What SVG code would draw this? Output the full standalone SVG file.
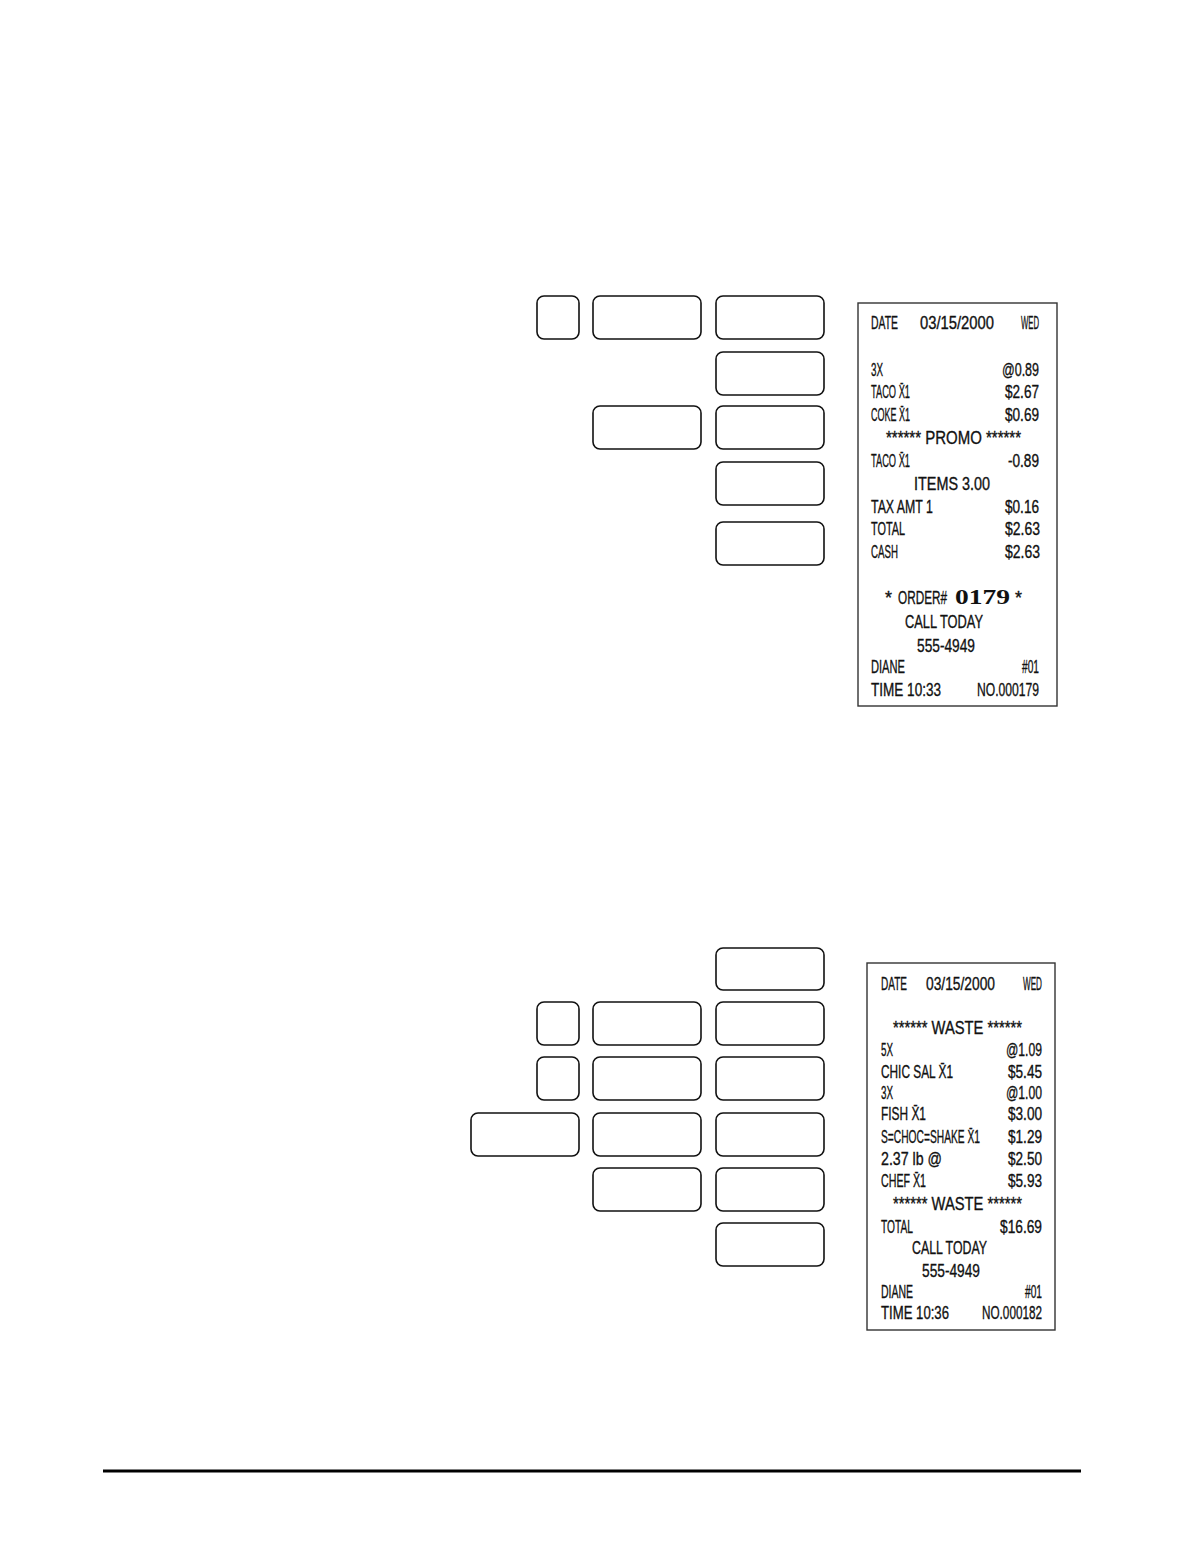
<svg xmlns="http://www.w3.org/2000/svg" width="1186" height="1568" viewBox="0 0 1186 1568">
<style>
.key{fill:#fff;stroke:#111;stroke-width:1.6}
.paper{fill:#fff;stroke:#333;stroke-width:1.4}
.r{font-family:"Liberation Sans",Arial,sans-serif;font-size:18px;fill:#111;stroke:#111;stroke-width:0.35}
.big{font-family:"Liberation Serif","Times New Roman",serif;font-size:20px;font-weight:bold;fill:#111}
</style>
<rect width="1186" height="1568" fill="#fff"/>
<g id="keys-top">
<rect id="k1" class="key" x="537" y="296" width="42" height="43" rx="7"/>
<rect id="k2" class="key" x="593" y="296" width="108" height="43" rx="7"/>
<rect id="k3" class="key" x="716" y="296" width="108" height="43" rx="7"/>
<rect id="k4" class="key" x="716" y="352" width="108" height="43" rx="7"/>
<rect id="k5" class="key" x="593" y="406" width="108" height="43" rx="7"/>
<rect id="k6" class="key" x="716" y="406" width="108" height="43" rx="7"/>
<rect id="k7" class="key" x="716" y="462" width="108" height="43" rx="7"/>
<rect id="k8" class="key" x="716" y="522" width="108" height="43" rx="7"/>
</g>
<g id="receipt-1">
<rect class="paper" x="858" y="303" width="199" height="403"/>
<text class="r" x="871" y="328.5" textLength="27" lengthAdjust="spacingAndGlyphs">DATE</text>
<text class="r" x="920" y="328.5" textLength="74" lengthAdjust="spacingAndGlyphs">03/15/2000</text>
<text class="r" x="1021" y="328.5" textLength="18" lengthAdjust="spacingAndGlyphs">WED</text>
<text class="r" x="871" y="375.5" textLength="12" lengthAdjust="spacingAndGlyphs">3X</text>
<text class="r" x="1002" y="375.5" textLength="37" lengthAdjust="spacingAndGlyphs">@0.89</text>
<text class="r" x="871" y="398" textLength="39" lengthAdjust="spacingAndGlyphs">TACO X̄1</text>
<text class="r" x="1005" y="398" textLength="34" lengthAdjust="spacingAndGlyphs">$2.67</text>
<text class="r" x="871" y="420.5" textLength="39" lengthAdjust="spacingAndGlyphs">COKE X̄1</text>
<text class="r" x="1005" y="420.5" textLength="34" lengthAdjust="spacingAndGlyphs">$0.69</text>
<text class="r" x="886" y="443.5" textLength="135" lengthAdjust="spacingAndGlyphs">****** PROMO ******</text>
<text class="r" x="871" y="466.5" textLength="39" lengthAdjust="spacingAndGlyphs">TACO X̄1</text>
<text class="r" x="1008" y="466.5" textLength="31" lengthAdjust="spacingAndGlyphs">-0.89</text>
<text class="r" x="914" y="489.5" textLength="76" lengthAdjust="spacingAndGlyphs">ITEMS 3.00</text>
<text class="r" x="871" y="512.5" textLength="62" lengthAdjust="spacingAndGlyphs">TAX AMT 1</text>
<text class="r" x="1005" y="512.5" textLength="34" lengthAdjust="spacingAndGlyphs">$0.16</text>
<text class="r" x="871" y="534.5" textLength="34" lengthAdjust="spacingAndGlyphs">TOTAL</text>
<text class="r" x="1005" y="534.5" textLength="35" lengthAdjust="spacingAndGlyphs">$2.63</text>
<text class="r" x="871" y="557.5" textLength="27" lengthAdjust="spacingAndGlyphs">CASH</text>
<text class="r" x="1005" y="557.5" textLength="35" lengthAdjust="spacingAndGlyphs">$2.63</text>
<text class="r" x="885" y="604" textLength="7" lengthAdjust="spacingAndGlyphs">*</text>
<text class="r" x="898" y="604" textLength="49" lengthAdjust="spacingAndGlyphs">ORDER#</text>
<text class="big" x="955" y="604" textLength="55" lengthAdjust="spacingAndGlyphs">0179</text>
<text class="r" x="1015" y="604" textLength="7" lengthAdjust="spacingAndGlyphs">*</text>
<text class="r" x="905" y="627.5" textLength="78" lengthAdjust="spacingAndGlyphs">CALL  TODAY</text>
<text class="r" x="917" y="652" textLength="58" lengthAdjust="spacingAndGlyphs">555-4949</text>
<text class="r" x="871" y="672.5" textLength="34" lengthAdjust="spacingAndGlyphs">DIANE</text>
<text class="r" x="1022" y="672.5" textLength="17" lengthAdjust="spacingAndGlyphs">#01</text>
<text class="r" x="871" y="695.5" textLength="70" lengthAdjust="spacingAndGlyphs">TIME 10:33</text>
<text class="r" x="977" y="695.5" textLength="62" lengthAdjust="spacingAndGlyphs">NO.000179</text>
</g>
<g id="keys-bottom">
<rect id="b1" class="key" x="716" y="948" width="108" height="42" rx="7"/>
<rect id="b2" class="key" x="537" y="1002" width="42" height="43" rx="7"/>
<rect id="b3" class="key" x="593" y="1002" width="108" height="43" rx="7"/>
<rect id="b4" class="key" x="716" y="1002" width="108" height="43" rx="7"/>
<rect id="b5" class="key" x="537" y="1057" width="42" height="43" rx="7"/>
<rect id="b6" class="key" x="593" y="1057" width="108" height="43" rx="7"/>
<rect id="b7" class="key" x="716" y="1057" width="108" height="43" rx="7"/>
<rect id="b8" class="key" x="471" y="1113" width="108" height="43" rx="7"/>
<rect id="b9" class="key" x="593" y="1113" width="108" height="43" rx="7"/>
<rect id="b10" class="key" x="716" y="1113" width="108" height="43" rx="7"/>
<rect id="b11" class="key" x="593" y="1168" width="108" height="43" rx="7"/>
<rect id="b12" class="key" x="716" y="1168" width="108" height="43" rx="7"/>
<rect id="b13" class="key" x="716" y="1223" width="108" height="43" rx="7"/>
</g>
<g id="receipt-2">
<rect class="paper" x="867" y="963" width="188" height="367"/>
<text class="r" x="881" y="989.5" textLength="26" lengthAdjust="spacingAndGlyphs">DATE</text>
<text class="r" x="926" y="989.5" textLength="69" lengthAdjust="spacingAndGlyphs">03/15/2000</text>
<text class="r" x="1023" y="989.5" textLength="19" lengthAdjust="spacingAndGlyphs">WED</text>
<text class="r" x="893" y="1033.5" textLength="129" lengthAdjust="spacingAndGlyphs">****** WASTE ******</text>
<text class="r" x="881" y="1055.5" textLength="12" lengthAdjust="spacingAndGlyphs">5X</text>
<text class="r" x="1006" y="1055.5" textLength="36" lengthAdjust="spacingAndGlyphs">@1.09</text>
<text class="r" x="881" y="1077.5" textLength="72" lengthAdjust="spacingAndGlyphs">CHIC SAL X̄1</text>
<text class="r" x="1008" y="1077.5" textLength="34" lengthAdjust="spacingAndGlyphs">$5.45</text>
<text class="r" x="881" y="1098.5" textLength="12" lengthAdjust="spacingAndGlyphs">3X</text>
<text class="r" x="1006" y="1098.5" textLength="36" lengthAdjust="spacingAndGlyphs">@1.00</text>
<text class="r" x="881" y="1119.5" textLength="45" lengthAdjust="spacingAndGlyphs">FISH X̄1</text>
<text class="r" x="1008" y="1119.5" textLength="34" lengthAdjust="spacingAndGlyphs">$3.00</text>
<text class="r" x="881" y="1142.5" textLength="99" lengthAdjust="spacingAndGlyphs">S=CHOC=SHAKE X̄1</text>
<text class="r" x="1008" y="1142.5" textLength="34" lengthAdjust="spacingAndGlyphs">$1.29</text>
<text class="r" x="881" y="1164.5" textLength="61" lengthAdjust="spacingAndGlyphs">2.37 lb @</text>
<text class="r" x="1008" y="1164.5" textLength="34" lengthAdjust="spacingAndGlyphs">$2.50</text>
<text class="r" x="881" y="1186.5" textLength="45" lengthAdjust="spacingAndGlyphs">CHEF X̄1</text>
<text class="r" x="1008" y="1186.5" textLength="34" lengthAdjust="spacingAndGlyphs">$5.93</text>
<text class="r" x="893" y="1209.5" textLength="129" lengthAdjust="spacingAndGlyphs">****** WASTE ******</text>
<text class="r" x="881" y="1232.5" textLength="32" lengthAdjust="spacingAndGlyphs">TOTAL</text>
<text class="r" x="1000" y="1232.5" textLength="42" lengthAdjust="spacingAndGlyphs">$16.69</text>
<text class="r" x="912" y="1253.5" textLength="75" lengthAdjust="spacingAndGlyphs">CALL  TODAY</text>
<text class="r" x="922" y="1276.5" textLength="58" lengthAdjust="spacingAndGlyphs">555-4949</text>
<text class="r" x="881" y="1297.5" textLength="32" lengthAdjust="spacingAndGlyphs">DIANE</text>
<text class="r" x="1025" y="1297.5" textLength="17" lengthAdjust="spacingAndGlyphs">#01</text>
<text class="r" x="881" y="1319" textLength="68" lengthAdjust="spacingAndGlyphs">TIME 10:36</text>
<text class="r" x="982" y="1319" textLength="60" lengthAdjust="spacingAndGlyphs">NO.000182</text>
</g>
<line id="footer-rule" x1="103" y1="1471" x2="1081" y2="1471" stroke="#000" stroke-width="3"/>
</svg>
